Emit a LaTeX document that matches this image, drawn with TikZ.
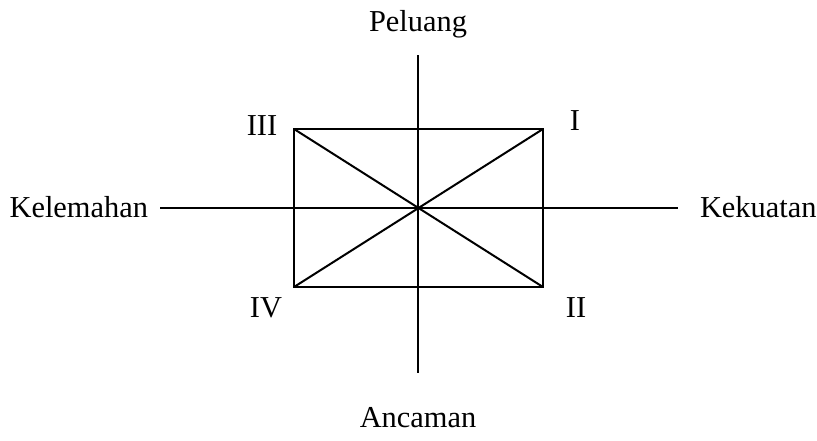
\documentclass[tikz,border=0pt]{standalone}
\usepackage{fontspec}
\setmainfont{Liberation Serif}
\usetikzlibrary{positioning}

\begin{document}
\begin{tikzpicture}[x=0.5pt, y=-0.5pt, line width=1pt,
  lbl/.style={font=\fontsize{15.2}{18}\selectfont, inner sep=0pt, anchor=base}]
  \useasboundingbox (0,0) rectangle (817,440);
  % axes
  \coordinate (c) at (418,208);
  \coordinate (ytop) at (418,55);
  \coordinate (ybot) at (418,373);
  \coordinate (xlft) at (160,208);
  \coordinate (xrgt) at (678,208);
  % box corners
  \coordinate (tl) at (294,129);
  \coordinate (tr) at (543,129);
  \coordinate (br) at (543,287);
  \coordinate (bl) at (294,287);
  \node[lbl] (pel) at (418,31) {Peluang};
  \node[lbl] (anc) at (418,427) {Ancaman};
  \node[lbl, anchor=base east] (kel) at (149,217) {Kelemahan};
  \node[lbl, anchor=base west] (kek) at (699,217) {Kekuatan};
  \node[lbl] (q3) at (262,135) {III};
  \node[lbl] (q1) at (575,130) {I};
  \node[lbl] (q4) at (266,317) {IV};
  \node[lbl] (q2) at (576,317) {II};
  \draw (ytop) -- (ybot);
  \draw (xlft) -- (xrgt);
  \draw (tl) -- (tr) -- (br) -- (bl) -- cycle;
  \draw (tl) -- (br);
  \draw (tr) -- (bl);
\end{tikzpicture}
\end{document}
